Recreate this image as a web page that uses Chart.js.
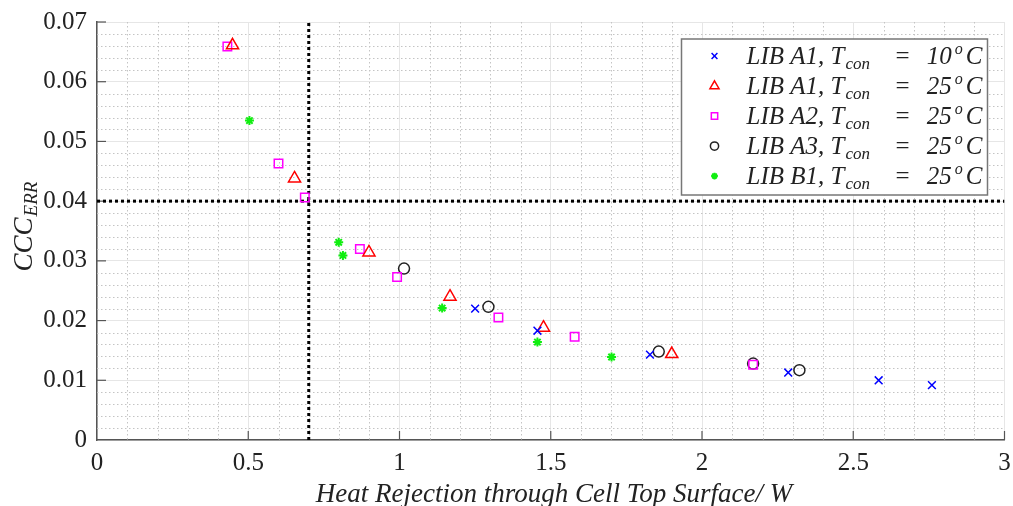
<!DOCTYPE html>
<html>
<head>
<meta charset="utf-8">
<script src="https://cdn.jsdelivr.net/npm/chart.js@4.4.0/dist/chart.umd.min.js"></script>
<style>
  html, body { margin: 0; padding: 0; background: #fff; }
</style>
</head>
<body>
<canvas id="cccChart" width="1013" height="506"></canvas>
<script>
// heat rejection through the cell top (W) against CCC error, per cell and coolant temp
var a1Cold_q   = [1.250, 1.456, 1.828, 2.285, 2.584, 2.760];
var a1Cold_err = [0.0220, 0.0183, 0.0143, 0.0113, 0.0100, 0.0092];

var a1Warm_q   = [0.448, 0.653, 0.899, 1.167, 1.476, 1.900];
var a1Warm_err = [0.0661, 0.0438, 0.0314, 0.0240, 0.0188, 0.0144];

var a2_q   = [0.431, 0.600, 0.687, 0.869, 0.992, 1.327, 1.579, 2.169];
var a2_err = [0.0659, 0.0463, 0.0406, 0.0320, 0.0273, 0.0205, 0.0173, 0.0126];

var a3_q   = [1.015, 1.294, 1.857, 2.169, 2.322];
var a3_err = [0.0287, 0.0223, 0.0148, 0.0128, 0.0117];

var b1_q   = [0.504, 0.799, 0.813, 1.141, 1.456, 1.701];
var b1_err = [0.0535, 0.0331, 0.0309, 0.0221, 0.0164, 0.0139];

// legend text pieces
var cellNames = ['LIB A1', 'LIB A1', 'LIB A2', 'LIB A3', 'LIB B1'];
var coolTemps = [10, 25, 25, 25, 25];

// limit lines
var qLimit = 0.7;
var errLimit = 0.04;

var xMin = 0, xMax = 3, xStep = 0.5, xMinor = 0.1;
var yMin = 0, yMax = 0.07, yStep = 0.01, yMinor = 0.002;

var serif = "'Liberation Serif', 'DejaVu Serif', serif";

function toPoints(xs, ys) {
    return xs.map(function (x, i) { return { x: x, y: ys[i] }; });
}

function markerSet(xs, ys, style, color, radius, width) {
    return {
        data: toPoints(xs, ys),
        showLine: false,
        pointStyle: style,
        pointRadius: radius,
        pointHoverRadius: radius,
        pointBorderWidth: width,
        pointHoverBorderWidth: width,
        borderColor: color,
        backgroundColor: 'rgba(0,0,0,0)',
        order: 1
    };
}

var markerSets = [
    markerSet(a1Cold_q, a1Cold_err, 'crossRot', '#0000ff', 5.5, 1.5),
    markerSet(a1Warm_q, a1Warm_err, 'triangle', '#ff0000', 7, 1.5),
    markerSet(a2_q, a2_err, 'rect', '#ff00ff', 6, 1.5),
    markerSet(a3_q, a3_err, 'circle', '#222222', 5.5, 1.5),
    markerSet(b1_q, b1_err, 'star', '#11ee11', 4.5, 2)
];

function limitLine(pts) {
    return {
        data: pts,
        showLine: true,
        pointRadius: 0,
        borderColor: '#000',
        borderWidth: 3,
        borderDash: [3, 3],
        fill: false,
        order: 10
    };
}

var datasets = markerSets.concat([
    limitLine([{ x: qLimit, y: yMin }, { x: qLimit, y: yMax }]),
    limitLine([{ x: xMin, y: errLimit }, { x: xMax, y: errLimit }])
]);

// dotted minor grid + inward tick marks
var minorGrid = {
    id: 'minorGrid',
    beforeDatasetsDraw: function (chart) {
        var ctx = chart.ctx, a = chart.chartArea;
        var xs = chart.scales.x, ys = chart.scales.y;
        ctx.save();
        ctx.strokeStyle = '#c4c4c4';
        ctx.lineWidth = 1;
        ctx.setLineDash([1.5, 2.5]);
        var i, v, p;
        for (i = 1; i < Math.round((xMax - xMin) / xMinor); i++) {
            if (i % 5 === 0) continue;
            p = Math.round(xs.getPixelForValue(xMin + i * xMinor)) + 0.5;
            ctx.beginPath(); ctx.moveTo(p, a.top); ctx.lineTo(p, a.bottom); ctx.stroke();
        }
        for (i = 1; i < Math.round((yMax - yMin) / yMinor); i++) {
            if (i % 5 === 0) continue;
            p = Math.round(ys.getPixelForValue(yMin + i * yMinor)) + 0.5;
            ctx.beginPath(); ctx.moveTo(a.left, p); ctx.lineTo(a.right, p); ctx.stroke();
        }
        ctx.setLineDash([]);
        ctx.strokeStyle = '#555';
        ctx.lineWidth = 1.2;
        for (v = xMin + xStep; v < xMax + 1e-9; v += xStep) {
            p = xs.getPixelForValue(v);
            ctx.beginPath(); ctx.moveTo(p, a.bottom); ctx.lineTo(p, a.bottom - 9); ctx.stroke();
        }
        for (v = yMin + yStep; v < yMax + 1e-9; v += yStep) {
            p = ys.getPixelForValue(v);
            ctx.beginPath(); ctx.moveTo(a.left, p); ctx.lineTo(a.left + 9, p); ctx.stroke();
        }
        ctx.restore();
    }
};

// axis titles and legend (they need sub/superscripts)
var annotations = {
    id: 'annotations',
    afterDraw: function (chart) {
        var ctx = chart.ctx, a = chart.chartArea;
        ctx.save();
        ctx.fillStyle = '#222';
        ctx.textBaseline = 'alphabetic';

        // x title
        ctx.font = 'italic 27px ' + serif;
        ctx.textAlign = 'center';
        ctx.fillText('Heat Rejection through Cell Top Surface/ W', 554, 502);

        // y title: CCC with ERR subscript, rotated
        ctx.save();
        ctx.translate(32, 227);
        ctx.rotate(-Math.PI / 2);
        ctx.textAlign = 'left';
        ctx.font = 'italic 27px ' + serif;
        var w1 = ctx.measureText('CCC').width;
        ctx.font = 'italic 19px ' + serif;
        var w2 = ctx.measureText('ERR').width;
        var x0 = -(w1 + w2) / 2;
        ctx.font = 'italic 27px ' + serif;
        ctx.fillText('CCC', x0, 0);
        ctx.font = 'italic 19px ' + serif;
        ctx.fillText('ERR', x0 + w1 + 1, 5);
        ctx.restore();

        // legend box
        var bx = a.right - 323, by = a.top + 17, bw = 306, bh = 156;
        ctx.fillStyle = '#fff';
        ctx.fillRect(bx, by, bw, bh);
        ctx.strokeStyle = '#777';
        ctx.lineWidth = 1.5;
        ctx.strokeRect(bx, by, bw, bh);

        var helpers = Chart.helpers;
        for (var i = 0; i < markerSets.length; i++) {
            var ds = markerSets[i];
            var cy = by + 17 + i * 30;
            ctx.strokeStyle = ds.borderColor;
            ctx.fillStyle = 'rgba(0,0,0,0)';
            ctx.lineWidth = ds.pointBorderWidth;
            helpers.drawPoint(ctx, {
                pointStyle: ds.pointStyle,
                radius: ds.pointRadius * 0.75,
                rotation: 0,
                borderWidth: ds.pointBorderWidth
            }, bx + 33, cy);

            var base = cy + 8;
            var tx = bx + 65;
            ctx.fillStyle = '#222';
            ctx.textAlign = 'left';
            ctx.font = 'italic 25px ' + serif;
            var head = cellNames[i] + ', T';
            ctx.fillText(head, tx, base);
            tx += ctx.measureText(head).width + 1;
            ctx.font = 'italic 17px ' + serif;
            ctx.fillText('con', tx, base + 5);

            ctx.font = '25px ' + serif;
            ctx.textAlign = 'center';
            ctx.fillText('=', bx + 221, base);

            // temperature, right aligned against the box edge
            var rx = bx + bw - 5;
            ctx.textAlign = 'right';
            ctx.font = 'italic 25px ' + serif;
            ctx.fillText('C', rx, base);
            rx -= ctx.measureText('C').width + 3;
            ctx.font = 'italic 16px ' + serif;
            ctx.fillText('o', rx, base - 10);
            rx -= ctx.measureText('o').width + 3;
            ctx.font = 'italic 25px ' + serif;
            ctx.fillText(String(coolTemps[i]), rx, base);
        }
        ctx.restore();
    }
};

function noEdgePadding(scale) {
    scale.paddingLeft = 0;
    scale.paddingRight = 0;
    scale.paddingTop = 0;
    scale.paddingBottom = 0;
}

var ctx = document.getElementById('cccChart').getContext('2d');
var cccChart = new Chart(ctx, {
    type: 'scatter',
    data: { datasets: datasets },
    options: {
        responsive: false,
        devicePixelRatio: 1,
        animation: false,
        events: [],
        layout: { padding: { left: 0, right: 8, top: 22, bottom: 0 } },
        plugins: {
            legend: { display: false },
            tooltip: { enabled: false }
        },
        scales: {
            x: {
                type: 'linear',
                min: xMin,
                max: xMax,
                afterFit: function (scale) { scale.height = 66; noEdgePadding(scale); },
                ticks: {
                    stepSize: xStep,
                    padding: 8,
                    color: '#222',
                    font: { family: serif, size: 25 },
                    callback: function (v) { return String(Math.round(v * 10) / 10); }
                },
                grid: { color: '#e6e6e6', lineWidth: 1, drawTicks: false },
                border: { display: true, color: '#555', width: 1.5 }
            },
            y: {
                type: 'linear',
                min: yMin,
                max: yMax,
                afterFit: function (scale) { scale.width = 97; noEdgePadding(scale); },
                ticks: {
                    stepSize: yStep,
                    padding: 10,
                    color: '#222',
                    font: { family: serif, size: 25 },
                    callback: function (v) { return v === 0 ? '0' : v.toFixed(2); }
                },
                grid: { color: '#e6e6e6', lineWidth: 1, drawTicks: false },
                border: { display: true, color: '#555', width: 1.5 }
            }
        }
    },
    plugins: [minorGrid, annotations]
});
</script>
</body>
</html>
